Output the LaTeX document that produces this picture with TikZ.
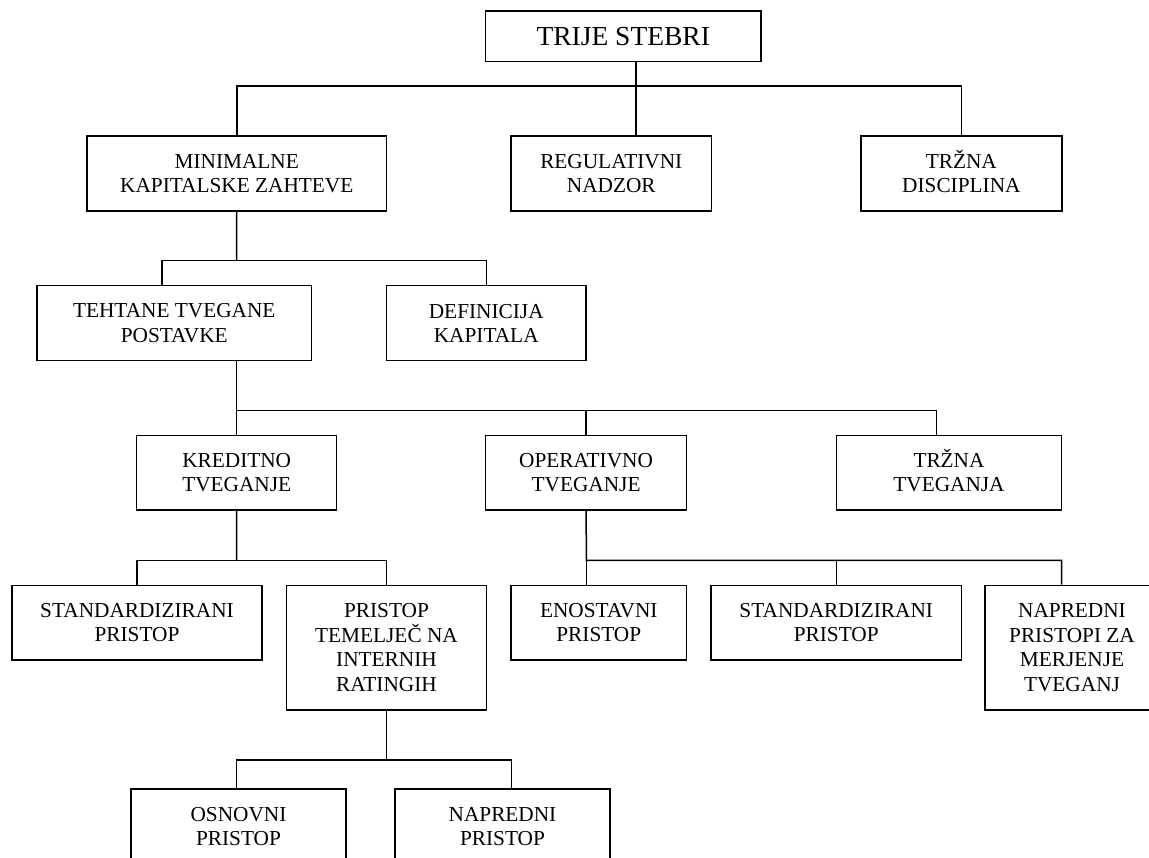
\documentclass[tikz,border=0pt]{standalone}
\usepackage{fontspec}
\setmainfont{Liberation Serif}
\begin{document}
\begin{tikzpicture}[x=1pt,y=-1pt,line width=1.5pt]
\tikzset{
  box/.style={draw, line width=1.5pt, rectangle, align=center, inner sep=0pt,
    font=\fontsize{21.3}{24.5}\selectfont},
  conn/.style={draw, line width=1.5pt}
}
\clip (0,0) rectangle (1149,858);
\fill[white] (0,0) rectangle (1149,858);
% level 0
\node[box, minimum width=275.5pt, minimum height=50.7pt, font=\fontsize{27.5}{30}\selectfont] (root) at (623.25,36.35) {TRIJE STEBRI};
% level 1
\node[box, minimum width=299.5pt, minimum height=75pt] (min) at (236.75,173.5) {MINIMALNE\\KAPITALSKE ZAHTEVE};
\node[box, minimum width=200.5pt, minimum height=75pt] (reg) at (611.25,173.5) {REGULATIVNI\\NADZOR};
\node[box, minimum width=200.9pt, minimum height=75pt] (trz) at (961.35,173.5) {TR\smash{Ž}NA\\DISCIPLINA};
% level 2
\node[box, minimum width=274.5pt, minimum height=75pt] (teh) at (174.25,323.2) {TEHTANE TVEGANE\\POSTAVKE};
\node[box, minimum width=199.5pt, minimum height=75pt] (def) at (486.25,323.2) {DEFINICIJA\\KAPITALA};
% level 3
\node[box, minimum width=200pt, minimum height=74.7pt] (kred) at (236.7,472.65) {KREDITNO\\TVEGANJE};
\node[box, minimum width=201pt, minimum height=74.7pt] (oper) at (586.1,472.65) {OPERATIVNO\\TVEGANJE};
\node[box, minimum width=225.4pt, minimum height=74.7pt] (trzt) at (949,472.65) {TR\smash{Ž}NA\\TVEGANJA};
% level 4
\node[box, minimum width=250.3pt, minimum height=74.7pt] (std1) at (137,622.65) {STANDARDIZIRANI\\PRISTOP};
\node[box, minimum width=199.8pt, minimum height=124.7pt] (pti) at (386.5,647.65) {PRISTOP\\TEMELJEČ NA\\INTERNIH\\RATINGIH};
\node[box, minimum width=175.6pt, minimum height=74.7pt] (eno) at (598.8,622.65) {ENOSTAVNI\\PRISTOP};
\node[box, minimum width=250.3pt, minimum height=74.7pt] (std2) at (836.25,622.65) {STANDARDIZIRANI\\PRISTOP};
\node[box, minimum width=174pt, minimum height=124.7pt] (nap2) at (1072,647.65) {NAPREDNI\\PRISTOPI ZA\\MERJENJE\\TVEGANJ};
% level 5
\node[box, minimum width=215pt, minimum height=75pt] (osn) at (238.5,826.5) {OSNOVNI\\PRISTOP};
\node[box, minimum width=215pt, minimum height=75pt] (nap) at (502.5,826.5) {NAPREDNI\\PRISTOP};
% junctions
\coordinate (j1) at (636,86);
\coordinate (j2) at (236.5,260.7);
\coordinate (j3) at (236.6,410.7);
\coordinate (j4) at (236.6,560.3);
\coordinate (j5) at (386.5,760);
\coordinate (j6) at (586.4,560.3);
% connectors
\draw[conn] (root.south -| j1) -- (reg.north -| j1);
\draw[conn] (min.north) |- (j1) -| (trz.north);
\draw[conn] (min.south) -- (j2);
\draw[conn] ([xshift=-12.25pt]teh.north) |- (j2) -| (def.north);
\draw[conn] (teh.south -| kred.north) -- (kred.north);
\draw[conn] (j3) -| ([xshift=-12.5pt]trzt.north);
\draw[conn] (oper.north |- j3) -- (oper.north);
\draw[conn] (kred.south) -- (j4);
\draw[conn] (std1.north) |- (j4) -| (pti.north);
\draw[conn] (pti.south) -- (j5);
\draw[conn] ([xshift=-2pt]osn.north) |- (j5) -| ([xshift=9.2pt]nap.north);
\draw[conn] (oper.south) -- (j6) -| ([xshift=-10.3pt]nap2.north);
\draw[conn] (j6) -- (eno.north -| j6);
\draw[conn] (std2.north) -- (std2.north |- j6);
\end{tikzpicture}
\end{document}
